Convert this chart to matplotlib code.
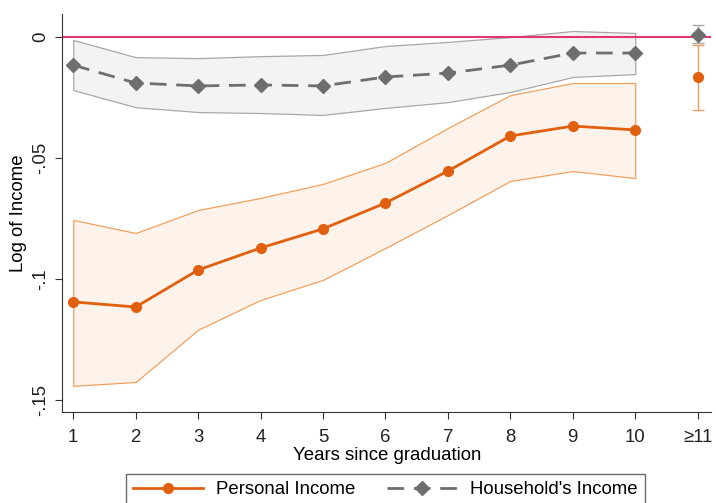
import matplotlib
matplotlib.use("Agg")
import matplotlib.pyplot as plt
import numpy as np

plt.rcParams['font.family'] = ['Liberation Sans', 'DejaVu Sans']

years = [1, 2, 3, 4, 5, 6, 7, 8, 9, 10]
tick_labels = ["1", "2", "3", "4", "5", "6", "7", "8", "9", "10", "≥11"]

personal = [-0.1095, -0.1116, -0.0963, -0.0872, -0.0793, -0.0686, -0.0554, -0.0409, -0.0368, -0.0384]
personal_hi = [-0.0756, -0.0810, -0.0715, -0.0665, -0.0607, -0.0520, -0.0376, -0.0240, -0.0190, -0.0190]
personal_lo = [-0.1442, -0.1426, -0.1210, -0.1087, -0.1004, -0.0872, -0.0736, -0.0595, -0.0554, -0.0583]

household = [-0.0116, -0.0190, -0.0202, -0.0198, -0.0202, -0.0165, -0.0149, -0.0116, -0.0066, -0.0066]
household_hi = [-0.0012, -0.0083, -0.0087, -0.0079, -0.0074, -0.0037, -0.0020, 0.0000, 0.0025, 0.0017]
household_lo = [-0.0219, -0.0290, -0.0310, -0.0314, -0.0322, -0.0293, -0.0269, -0.0227, -0.0165, -0.0153]

# >=11 group
personal_11 = -0.0165
personal_11_ci = (-0.0302, -0.0033)
household_11 = 0.0008
household_11_ci = (-0.0025, 0.0050)

orange = "#E0600F"
gray = "#6E6E6E"
pink = "#E0386E"
fs = 13.4

fig = plt.figure(figsize=(7.16, 5.03), dpi=100)
ax = fig.add_axes([0.0866, 0.181, 0.907, 0.791])

x = np.array(years)
ax.fill_between(x, household_lo, household_hi, facecolor="#F2F3F3", edgecolor="#A8A8A8", linewidth=0.9, zorder=1)
ax.fill_between(x, personal_lo, personal_hi, facecolor="#FEF3EA", edgecolor="#F0A060", linewidth=0.9, zorder=1)

ax.axhline(0, color=pink, linewidth=1.5, zorder=2)

ax.plot(x, personal, color=orange, linewidth=2, marker="o", markersize=7, zorder=4, label="Personal Income")
ax.plot(x, household, color=gray, linewidth=2, linestyle=(0, (6, 3.5)), marker="D", markersize=7.5, zorder=3,
        label="Household's Income")

ax.errorbar([11], [personal_11], yerr=[[personal_11 - personal_11_ci[0]], [personal_11_ci[1] - personal_11]],
            color=orange, ecolor="#F0A060", elinewidth=1, capsize=4, capthick=1, marker="o", markersize=7, zorder=4)
ax.errorbar([11], [household_11], yerr=[[household_11 - household_11_ci[0]], [household_11_ci[1] - household_11]],
            color=gray, ecolor="#A8A8A8", elinewidth=1, capsize=4, capthick=1, marker="D", markersize=7.5, zorder=3)

ax.set_xlim(0.82, 11.22)
ax.set_ylim(-0.155, 0.0095)
ax.set_xticks(list(range(1, 12)))
ax.set_xticklabels(tick_labels, fontsize=fs)
ax.set_yticks([0, -0.05, -0.1, -0.15])
ax.set_yticklabels(["0", "-.05", "-.1", "-.15"], fontsize=fs, rotation=90, va="center")
ax.set_xlabel("Years since graduation", fontsize=fs, labelpad=1)
ax.set_ylabel("Log of Income", fontsize=fs, labelpad=4)

for s in ["top", "right"]:
    ax.spines[s].set_visible(False)
for s in ["left", "bottom"]:
    ax.spines[s].set_color("#333333")
ax.tick_params(axis="both", colors="#333333", length=5, labelcolor="#222222")
ax.tick_params(axis="x", pad=7)
ax.tick_params(axis="y", pad=4)

leg = fig.legend(handles=ax.get_lines()[1:3], loc="upper center", bbox_to_anchor=(0.538, 0.077), ncol=2,
                 fontsize=fs, frameon=True, fancybox=False, edgecolor="#444444", handlelength=3.75,
                 handletextpad=0.7, columnspacing=1.7, borderpad=0.4)
leg.get_frame().set_linewidth(1.0)

fig.savefig("out.png", dpi=100, facecolor="white")
